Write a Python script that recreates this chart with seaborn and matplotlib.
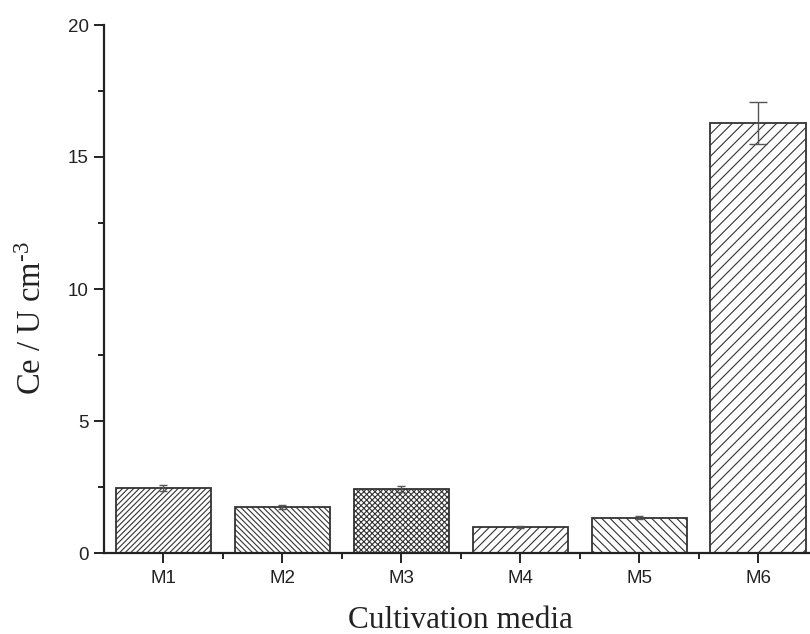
import numpy as np
import matplotlib
matplotlib.use("Agg")
import matplotlib.pyplot as plt
import seaborn as sns
from matplotlib.ticker import MultipleLocator

categories = ["M1", "M2", "M3", "M4", "M5", "M6"]
values = [2.46, 1.75, 2.42, 1.00, 1.34, 16.30]
errors = [0.12, 0.08, 0.12, 0.04, 0.05, 0.80]
hatches = ["//////", "\\\\\\\\\\\\", "xxxxxx", "////", "\\\\\\\\", "///"]
capsizes = [3, 3, 3, 3, 3, 6.5]

sns.set_theme(style="ticks")
plt.rcParams["hatch.linewidth"] = 0.8
plt.rcParams["font.family"] = ["Liberation Sans", "DejaVu Sans"]
plt.rcParams["mathtext.fontset"] = "custom"
plt.rcParams["mathtext.rm"] = "Liberation Serif"
plt.rcParams["mathtext.it"] = "Liberation Serif:italic"

fig = plt.figure(figsize=(8.1, 6.34), dpi=100)
ax = fig.add_axes([104/810, 81/634, 713.5/810, 528/634])

sns.barplot(x=categories, y=values, color="white", edgecolor="#333333",
            linewidth=1.3, width=0.8, ax=ax, errorbar=None, saturation=1)
for patch, h in zip(ax.patches, hatches):
    patch.set_hatch(h)
    patch.set_facecolor("white")

for i, (v, e, c) in enumerate(zip(values, errors, capsizes)):
    ax.errorbar([i], [v], yerr=[e], fmt="none", ecolor="#555555",
                elinewidth=1.0, capsize=c, capthick=1.0)

ax.set_xlim(-0.5, 5.5)
ax.set_ylim(0, 20)
ax.yaxis.set_major_locator(MultipleLocator(5))
ax.yaxis.set_minor_locator(MultipleLocator(2.5))
ax.set_xticks(np.arange(len(categories)))
ax.set_xticks(np.arange(len(categories)) + 0.5, minor=True)
ax.set_xticklabels(categories)

for s in ["top", "right"]:
    ax.spines[s].set_visible(False)
for s in ["left", "bottom"]:
    ax.spines[s].set_linewidth(1.6)
    ax.spines[s].set_color("#222222")

ax.tick_params(axis="both", which="major", direction="out", length=7, width=1.4,
               labelsize=13.5, colors="#222222")
ax.tick_params(axis="x", which="major", pad=5)
ax.tick_params(axis="y", which="major", pad=4)
ax.tick_params(axis="both", which="minor", direction="out", length=4.5, width=1.4,
               colors="#222222")

ax.set_xlabel("Cultivation media", fontsize=22.5, family="Liberation Serif",
              color="#222222")
ax.xaxis.set_label_coords(0.5, -0.100)
ax.set_ylabel("Ce / U cm$^{\\text{-3}}$", fontsize=23.5, family="Liberation Serif",
              color="#222222")
ax.yaxis.set_label_coords(-0.078, 0.445)

fig.savefig("out.png", dpi=100)
